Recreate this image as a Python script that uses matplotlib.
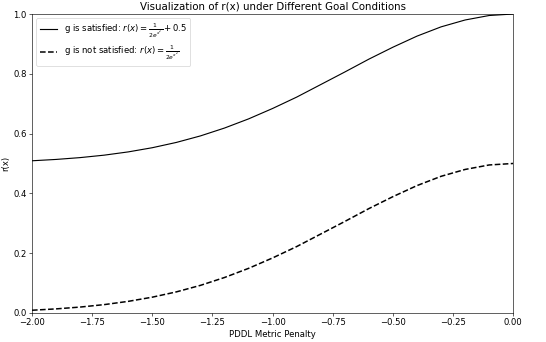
import numpy as np
import matplotlib
matplotlib.use('Agg')
import matplotlib.pyplot as plt

# values
x = [-2.0, -1.9, -1.8, -1.7, -1.6, -1.5, -1.4, -1.3, -1.2, -1.1, -1.0,
     -0.9, -0.8, -0.7, -0.6, -0.5, -0.4, -0.3, -0.2, -0.1, 0.0]
r_satisfied = [0.509, 0.5135, 0.5196, 0.5278, 0.5387, 0.5527, 0.5704, 0.5922,
               0.6185, 0.6491, 0.684, 0.722, 0.764, 0.806, 0.849, 0.889,
               0.926, 0.957, 0.980, 0.995, 1.0]
r_not_satisfied = [0.009, 0.0135, 0.0196, 0.0278, 0.0387, 0.0527, 0.0704, 0.0922,
                   0.1185, 0.1491, 0.184, 0.222, 0.264, 0.306, 0.349, 0.389,
                   0.426, 0.457, 0.480, 0.495, 0.5]

label_sat = r'g is satisfied: $r(x) = \frac{1}{2e^{x^2}} + 0.5$'
label_not = r'g is not satisfied: $r(x) = \frac{1}{2e^{x^2}}$'

plt.rcParams['font.size'] = 11.3

fig = plt.figure(figsize=(10, 6.264), dpi=54.6)
ax = fig.add_subplot(111)
fig.subplots_adjust(left=0.0586, right=0.94, top=0.959, bottom=0.085)

ax.plot(x, r_satisfied, color='black', linestyle='-', lw=1.5, label=label_sat)
ax.plot(x, r_not_satisfied, color='black', linestyle='--', lw=2, label=label_not)

ax.set_xlim(-2, 0)
ax.set_ylim(0, 1)
ax.set_title('Visualization of r(x) under Different Goal Conditions')
ax.set_xlabel('PDDL Metric Penalty')
ax.set_ylabel('r(x)')
ax.legend(loc='upper left')

fig.savefig('out.png', dpi=54.6)
